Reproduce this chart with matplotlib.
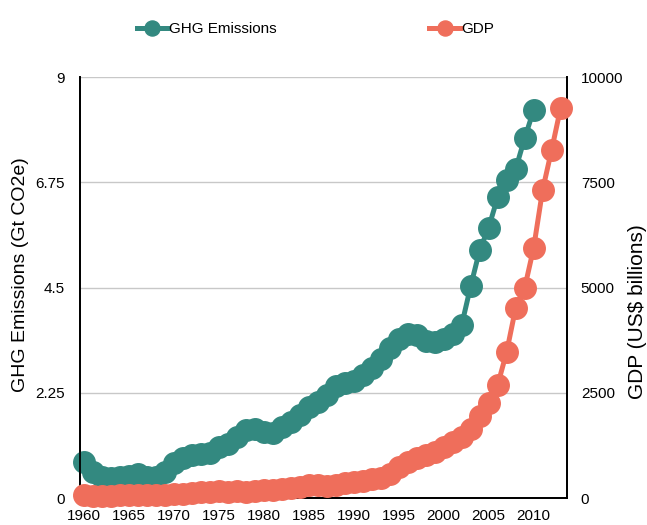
import matplotlib
matplotlib.use("Agg")
import matplotlib.pyplot as plt

plt.rcParams['font.family'] = ['Liberation Sans', 'DejaVu Sans']

# data
years_ghg = list(range(1960, 2011))
ghg = [0.78, 0.55, 0.45, 0.43, 0.44, 0.47, 0.52, 0.45, 0.44, 0.55,
       0.75, 0.85, 0.92, 0.95, 0.97, 1.10, 1.15, 1.30, 1.45, 1.48,
       1.42, 1.40, 1.52, 1.62, 1.78, 1.95, 2.05, 2.20, 2.40, 2.45,
       2.50, 2.62, 2.78, 2.98, 3.20, 3.40, 3.50, 3.48, 3.35, 3.33,
       3.40, 3.50, 3.70, 4.53, 5.30, 5.78, 6.43, 6.80, 7.03, 7.69,
       8.29]

years_gdp = list(range(1960, 2014))
gdp = [60, 50, 47, 51, 60, 70, 77, 73, 71, 80,
       93, 100, 114, 139, 144, 163, 154, 175, 150, 178,
       190, 195, 205, 230, 260, 310, 300, 290, 320, 350,
       380, 400, 440, 470, 560, 730, 860, 960, 1030, 1090,
       1200, 1330, 1460, 1650, 1950, 2256, 2684, 3468, 4513, 4988,
       5938, 7316, 8266, 9264]

left_ticks = [0, 2.25, 4.5, 6.75, 9]
left_labels = ['0', '2.25', '4.5', '6.75', '9']
right_ticks = [0, 2500, 5000, 7500, 10000]
x_ticks = list(range(1960, 2011, 5))

teal = '#338980'
coral = '#ef6e5b'

fig = plt.figure(figsize=(6.47, 5.25), dpi=100)
ax = fig.add_axes([0.1236, 0.0514, 0.7526, 0.8019])
ax2 = ax.twinx()

l1, = ax.plot(years_ghg, ghg, color=teal, lw=3.6, marker='o', ms=15.5,
              clip_on=False, zorder=3, label='GHG Emissions')
l2, = ax2.plot(years_gdp, gdp, color=coral, lw=3.6, marker='o', ms=15.5,
               clip_on=False, zorder=3, label='GDP')

ax.set_xlim(1959.55, 2013.7)
ax.set_ylim(0, 9)
ax2.set_ylim(0, 10000)

ax.set_yticks(left_ticks)
ax.set_yticklabels(left_labels)
ax2.set_yticks(right_ticks)
ax.set_xticks(x_ticks)

ax.grid(axis='y', color='#c8c8c8', lw=1)
ax.set_axisbelow(True)

for a in (ax, ax2):
    a.spines['top'].set_visible(False)
    for s in ('left', 'right', 'bottom'):
        a.spines[s].set_linewidth(1.3)
        a.spines[s].set_color('black')
    a.tick_params(length=0, labelsize=11)

ax.tick_params(axis='x', pad=8)
ax.tick_params(axis='y', pad=11)
ax2.tick_params(axis='y', pad=10)

ax.set_ylabel('GHG Emissions (Gt CO2e)', fontsize=14)
ax.yaxis.set_label_coords(-0.105, 0.53)
ax2.set_ylabel('GDP (US$ billions)', fontsize=15)
ax2.yaxis.set_label_coords(1.125, 0.442)

fig.legend(handles=[l1, l2], loc='center', bbox_to_anchor=(0.488, 0.945),
           ncol=2, frameon=False, fontsize=11, handlelength=2.0,
           handletextpad=0.1, columnspacing=10.0, markerscale=0.7)

fig.savefig('out.png', dpi=100)
